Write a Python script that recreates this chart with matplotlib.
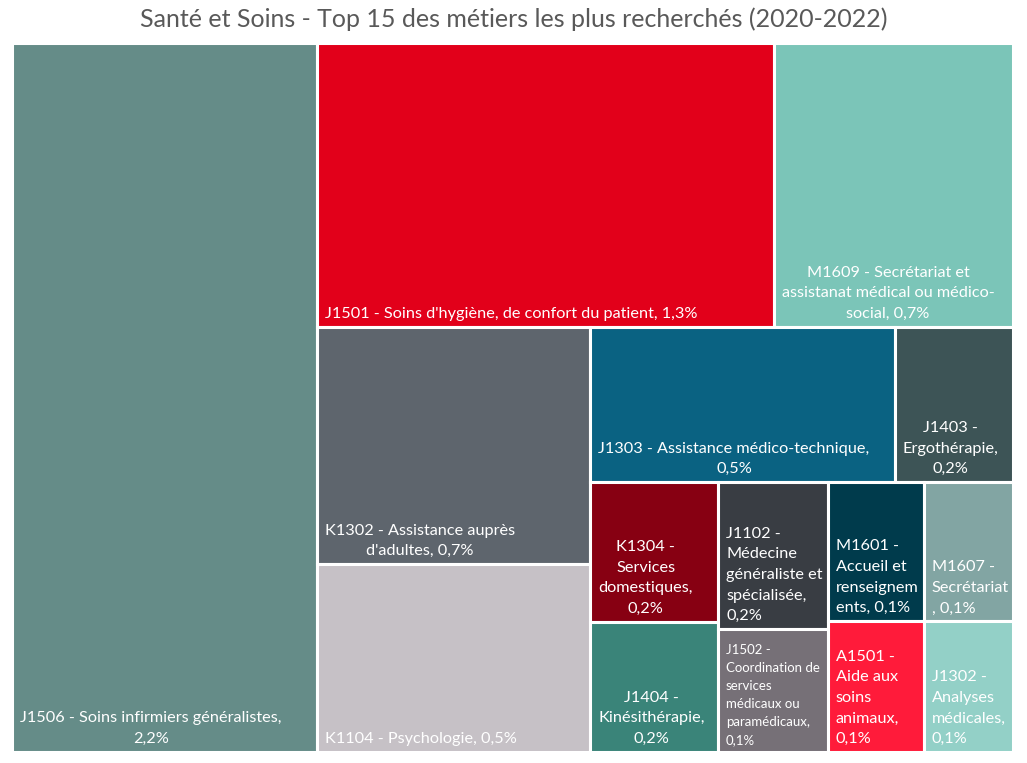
import matplotlib
matplotlib.use('Agg')
import matplotlib.pyplot as plt
from matplotlib.patches import Rectangle

plt.rcParams['font.family'] = ['Lato', 'DejaVu Sans']

# données (part des offres, en %)
codes = ['J1506', 'J1501', 'M1609', 'K1302', 'K1104', 'J1303', 'J1403', 'K1304',
         'J1404', 'J1102', 'J1502', 'M1601', 'A1501', 'M1607', 'J1302']
values = [2.2, 1.321, 0.692, 0.662, 0.524, 0.482, 0.187, 0.182,
          0.169, 0.164, 0.137, 0.136, 0.128, 0.127, 0.119]
labels = ['J1506 - Soins infirmiers généralistes,\n{}',
          "J1501 - Soins d'hygiène, de confort du patient, {}",
          'M1609 - Secrétariat et\nassistanat médical ou médico-\nsocial, {}',
          "K1302 - Assistance auprès\nd'adultes, {}",
          'K1104 - Psychologie, {}',
          'J1303 - Assistance médico-technique,\n{}',
          'J1403 -\nErgothérapie,\n{}',
          'K1304 -\nServices\ndomestiques,\n{}',
          'J1404 -\nKinésithérapie,\n{}',
          'J1102 -\nMédecine\ngénéraliste et\nspécialisée,\n{}',
          'J1502 -\nCoordination de\nservices\nmédicaux ou\nparamédicaux,\n{}',
          'M1601 -\nAccueil et\nrenseignem\nents, {}',
          'A1501 -\nAide aux\nsoins\nanimaux,\n{}',
          'M1607 -\nSecrétariat\n, {}',
          'J1302 -\nAnalyses\nmédicales,\n{}']
colors = ['#658c88', '#e2001a', '#7bc5b8', '#5e656d', '#c6c1c6', '#0a6282', '#3d5456',
          '#870012', '#3a8479', '#393d43', '#767077', '#003b4c', '#ff1b3a', '#82a5a3', '#93d0c7']

# structure du treemap (découpage alterné x / y)
tree = [0, [[1, 2], [[3, 4], [[5, 6], [[7, 8], [9, 10], [11, 12], [13, 14]]]]]]


def total(node):
    if isinstance(node, int):
        return values[node]
    return sum(total(n) for n in node)


def layout(node, x, y, w, h, split_y, out):
    if isinstance(node, int):
        out[node] = (x, y, w, h)
        return
    s = total(node)
    if not split_y:
        for n in node:
            ww = w * total(n) / s
            layout(n, x, y, ww, h, True, out)
            x += ww
    else:
        top = y + h
        for n in node:
            hh = h * total(n) / s
            layout(n, x, top - hh, w, hh, False, out)
            top -= hh


W, H = 1001, 709
rects = {}
layout(tree, 0, 0, W, H, False, rects)

fig = plt.figure(figsize=(10.27, 7.63), dpi=100)
ax = fig.add_axes([12 / 1027, 11 / 763, W / 1027, H / 763])
ax.set_xlim(0, W)
ax.set_ylim(0, H)
ax.axis('off')

for i in range(len(codes)):
    x, y, w, h = rects[i]
    ax.add_patch(Rectangle((x, y), w, h, facecolor=colors[i], edgecolor='white', linewidth=2.2))
    pct = ('%.1f%%' % values[i]).replace('.', ',')
    txt = labels[i].format(pct)
    fs = 9.5 if codes[i] == 'J1502' else 11.7
    ax.text(x + 8, y + 6, txt, ha='left', va='bottom', color='white', fontsize=fs,
            multialignment='left' if w < 115 else 'center', linespacing=1.6)

fig.text(0.5, 1 - 19 / 763, 'Santé et Soins - Top 15 des métiers les plus recherchés (2020-2022)',
         ha='center', va='center', fontsize=18, color='#595959')

fig.savefig('out.png', dpi=100)
